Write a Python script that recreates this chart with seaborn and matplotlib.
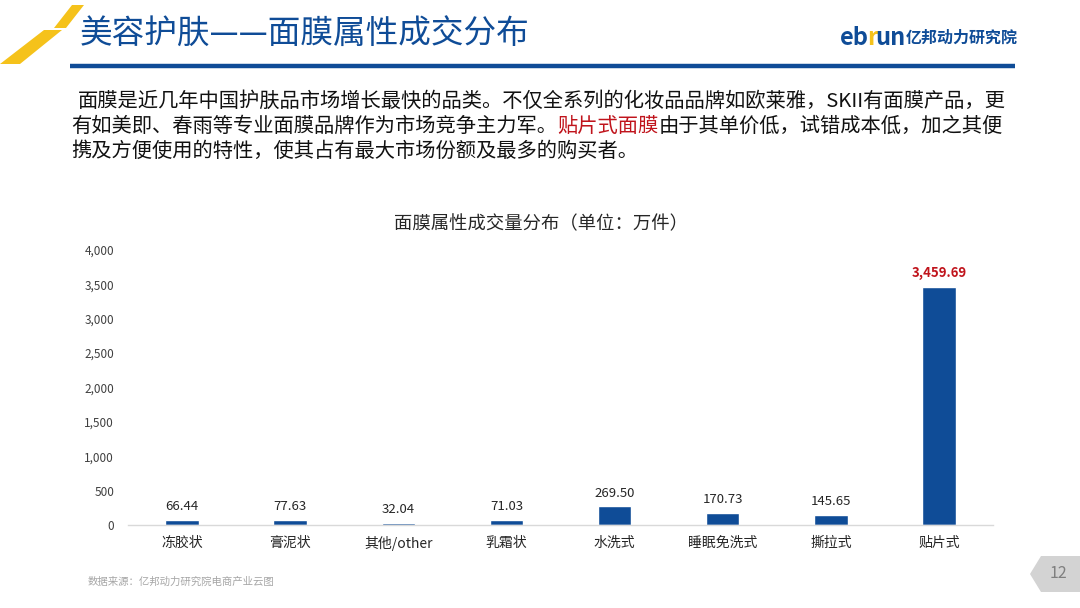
import matplotlib
matplotlib.use("Agg")
import matplotlib.pyplot as plt
from matplotlib.patches import Polygon
import pandas as pd
import seaborn as sns

# 数据
categories = ["冻胶状", "膏泥状", "其他/other", "乳霜状", "水洗式", "睡眠免洗式", "撕拉式", "贴片式"]
volumes = [66.44, 77.63, 32.04, 71.03, 269.50, 170.73, 145.65, 3459.69]
y_ticks = [0, 500, 1000, 1500, 2000, 2500, 3000, 3500, 4000]

title = "美容护肤——面膜属性成交分布"
chart_title = "面膜属性成交量分布（单位：万件）"
para_1 = "面膜是近几年中国护肤品市场增长最快的品类。不仅全系列的化妆品品牌如欧莱雅，SKII有面膜产品，更"
para_2a = "有如美即、春雨等专业面膜品牌作为市场竞争主力军。"
para_2b = "贴片式面膜"
para_2c = "由于其单价低，试错成本低，加之其便"
para_3 = "携及方便使用的特性，使其占有最大市场份额及最多的购买者。"
source = "数据来源：亿邦动力研究院电商产业云图"

BLUE = "#0F4C97"
RED = "#C0141C"
YELLOW = "#F5C21B"

sns.set_theme(style="white")
plt.rcParams["font.family"] = ["Noto Sans CJK SC", "DejaVu Sans"]

fig = plt.figure(figsize=(10.8, 6.08), dpi=100)
fig.patch.set_facecolor("white")

# 页面装饰层（像素坐标）
deco = fig.add_axes([0, 0, 1, 1], zorder=0)
deco.set_xlim(0, 1080)
deco.set_ylim(608, 0)
deco.axis("off")

deco.add_patch(Polygon([(54, 28), (66, 28), (84, 5), (72, 5)], closed=True, color=YELLOW, lw=0))
deco.add_patch(Polygon([(0, 64), (20, 64), (62, 30), (44, 30)], closed=True, color=YELLOW, lw=0))
deco.plot([70, 1015], [66, 66], color=BLUE, lw=3.2, solid_capstyle="butt")

deco.text(80, 35, title, fontsize=23.5, color=BLUE, va="center", ha="left", fontweight="medium")

renderer = fig.canvas.get_renderer()

# logo
x = 840
for part, col, fs in [("eb", BLUE, 17), ("r", YELLOW, 17), ("un", BLUE, 17), ("亿邦动力研究院", BLUE, 11.5)]:
    t = deco.text(x, 38, part, fontsize=fs, color=col, fontweight="bold", va="center", ha="left")
    x += t.get_window_extent(renderer).width - (2 if part in ("eb", "r") else 0)

# 说明文字
FS = 14.6
deco.text(78, 101, para_1, fontsize=FS, color="#111111", va="center", ha="left")
x = 71
for part, col in [(para_2a, "#111111"), (para_2b, RED), (para_2c, "#111111")]:
    t = deco.text(x, 126, part, fontsize=FS, color=col, va="center", ha="left")
    x += t.get_window_extent(renderer).width
deco.text(71, 151, para_3, fontsize=FS, color="#111111", va="center", ha="left")

deco.text(541, 224, chart_title, fontsize=13.2, color="#262626", va="center", ha="center")
deco.text(88, 582, source, fontsize=7.5, color="#A6A6A6", va="center", ha="left")

deco.add_patch(Polygon([(1030, 574), (1041, 556), (1080, 556), (1080, 592), (1041, 592)],
                       closed=True, color="#D3D3D3", lw=0))
deco.text(1058, 574, "12", fontsize=11.5, color="#7F7F7F", va="center", ha="center")

# 柱状图
df = pd.DataFrame({"类别": categories, "成交量": volumes})
ax = fig.add_axes([0.1185, 0.1365, 0.801, 0.4523], zorder=1)
ax.patch.set_alpha(0)
sns.barplot(data=df, x="类别", y="成交量", color=BLUE, saturation=1, width=0.31, ax=ax)

ax.set_ylim(0, 4000)
ax.set_xlim(-0.5, len(categories) - 0.5)
ax.set_yticks(y_ticks)
ax.set_yticklabels([f"{v:,}" for v in y_ticks])
ax.set_xlabel("")
ax.set_ylabel("")
ax.tick_params(axis="y", length=0, pad=10, labelsize=8.5, labelcolor="#404040")
ax.tick_params(axis="x", length=0, pad=8, labelsize=10, labelcolor="#262626")
for s in ["top", "right", "left"]:
    ax.spines[s].set_visible(False)
ax.spines["bottom"].set_color("#D9D9D9")
ax.spines["bottom"].set_linewidth(1)

for i, v in enumerate(volumes):
    last = i == len(volumes) - 1
    ax.annotate(f"{v:,.2f}", (i, v), xytext=(0, 5), textcoords="offset points",
                ha="center", va="bottom", fontsize=9.5, color=RED if last else "#262626",
                fontweight="bold" if last else "normal")

fig.savefig("out.png", dpi=100)
